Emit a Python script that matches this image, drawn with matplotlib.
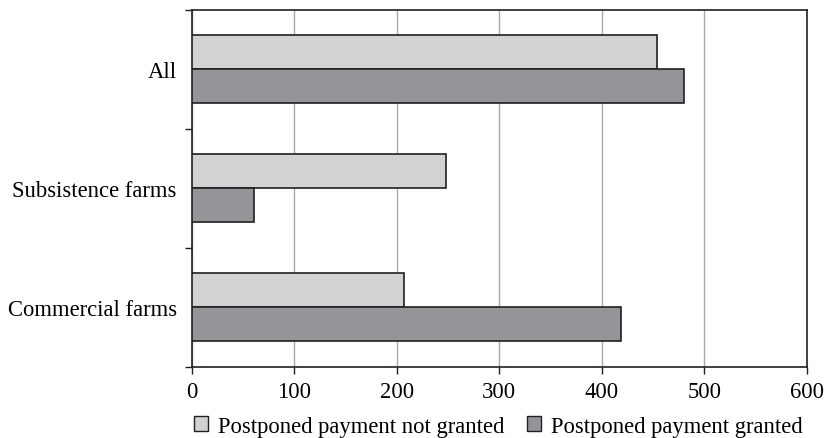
import matplotlib
matplotlib.use('Agg')
import matplotlib.pyplot as plt
from matplotlib.patches import Patch
import numpy as np

# Values (top to bottom)
categories = ['All', 'Subsistence farms', 'Commercial farms']
not_granted = [454, 248, 207]
granted = [480, 61, 419]
series_labels = ['Postponed payment not granted', 'Postponed payment granted']

LIGHT = '#d1d2d4'
DARK = '#939598'
EDGE = '#231f20'

plt.rcParams['font.family'] = ['Liberation Serif', 'DejaVu Serif']
plt.rcParams['font.size'] = 16.3

fig = plt.figure(figsize=(8.24, 4.39), dpi=100)
ax = fig.add_axes([0.233, 0.162, 0.746, 0.813])

ypos = np.arange(len(categories))[::-1]
h = 0.286
ax.barh(ypos + h / 2, not_granted, height=h, color=LIGHT,
        edgecolor=EDGE, linewidth=1.2, zorder=3)
ax.barh(ypos - h / 2, granted, height=h, color=DARK,
        edgecolor=EDGE, linewidth=1.2, zorder=3)

ax.set_xlim(0, 600)
ax.set_ylim(-0.5, len(categories) - 0.5)
ax.set_xticks(np.arange(0, 601, 100))
ax.grid(axis='x', color='#a7a9ac', linewidth=1.0, zorder=0)

# category boundaries get the tick marks, centres get the labels
ax.set_yticks(np.arange(-0.5, len(categories), 1.0))
ax.set_yticklabels([])
ax.set_yticks(ypos, minor=True)
ax.set_yticklabels(categories, minor=True)
ax.tick_params(axis='y', which='minor', length=0, pad=11)
ax.tick_params(axis='y', which='major', length=5, width=1.0, color=EDGE)
ax.tick_params(axis='x', length=5, width=1.0, color=EDGE, pad=5)

for sp in ax.spines.values():
    sp.set_color(EDGE)
    sp.set_linewidth(1.2)

handles = [Patch(facecolor=LIGHT, edgecolor=EDGE, linewidth=1.0),
           Patch(facecolor=DARK, edgecolor=EDGE, linewidth=1.0)]
fig.legend(handles, series_labels, loc='center', ncol=2,
           bbox_to_anchor=(0.605, 0.027), frameon=False,
           handlelength=0.6, handleheight=0.6, handletextpad=0.45,
           columnspacing=1.0, borderaxespad=0)

fig.savefig('out.png', dpi=100)
